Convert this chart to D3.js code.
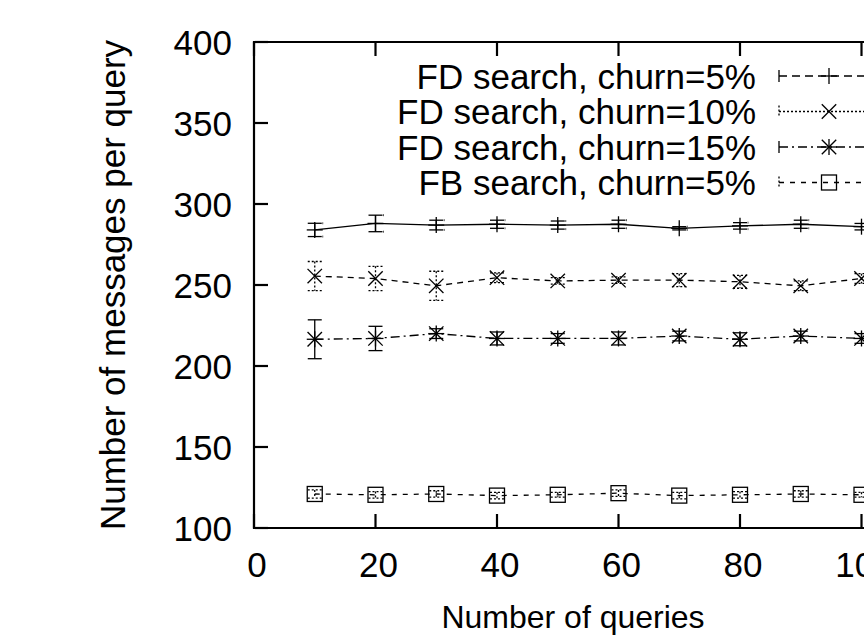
<!DOCTYPE html>
<html>
<head>
<meta charset="utf-8">
<script src="https://cdn.jsdelivr.net/npm/d3@7"></script>
<style>
  html, body { margin: 0; padding: 0; background: #fff; }
  svg { display: block; }
  text { font-family: "Liberation Sans", Arial, Helvetica, sans-serif; fill: #000; }
</style>
</head>
<body>
<div id="chart"></div>
<script>
// data
var queries = [10, 20, 30, 40, 50, 60, 70, 80, 90, 100];
var seriesNames = ["FD search, churn=5%", "FD search, churn=10%", "FD search, churn=15%", "FB search, churn=5%"];
var fd5 = [284, 288, 287, 287.5, 287, 287.5, 285, 286.5, 287.5, 286];
var fd5Err = [4.1, 5.1, 3, 2.5, 2.5, 2.5, 1, 2, 2.5, 2];
var fd10 = [255.5, 254, 249.5, 254.5, 252.5, 253, 253, 252, 249.5, 254];
var fd10Err = [9, 7.5, 9, 3, 2, 2, 4, 4, 3, 3];
var fd15 = [216.5, 217, 220, 217, 217, 217, 218.5, 216.5, 218.5, 217];
var fd15Err = [12, 7.5, 3, 4, 3, 4, 3, 4, 3, 3];
var fb5 = [121, 120.5, 121, 120, 120.5, 121.5, 120, 120.5, 121, 120.5];
var fb5Err = [2.5, 2, 2, 2, 1.5, 2, 2, 2, 2, 1.5];
var xTicks = [0, 20, 40, 60, 80, 100];
var yTicks = [100, 150, 200, 250, 300, 350, 400];

var width = 864, height = 635;
var fontSize = 35;

var svg = d3.select("#chart").append("svg")
    .attr("width", width)
    .attr("height", height);

var x = d3.scaleLinear().domain([0, 100]).range([254, 861.5]);
var y = d3.scaleLinear().domain([100, 400]).range([528, 42]);
var xRight = x(120);

// series styles (plot line dash, legend dash, errorbar dash, marker)
var series = [
    { name: seriesNames[0], vals: fd5, err: fd5Err, dash: null, legDash: "8,5", barDash: null, marker: "plus" },
    { name: seriesNames[1], vals: fd10, err: fd10Err, dash: "6,5", legDash: "2,2", barDash: "2,2", marker: "cross" },
    { name: seriesNames[2], vals: fd15, err: fd15Err, dash: "9,4,2,4", legDash: "9,4,2,4", barDash: null, marker: "star" },
    { name: seriesNames[3], vals: fb5, err: fb5Err, dash: "5,6", legDash: "5,6", barDash: "2,2", marker: "box" }
];

function drawMarker(g, type, cx, cy) {
    var r = 8;
    var p = g.append("g").attr("stroke", "#000").attr("stroke-width", 1.3).attr("fill", "none");
    if (type === "plus" || type === "star") {
        p.append("line").attr("x1", cx - r).attr("x2", cx + r).attr("y1", cy).attr("y2", cy);
        p.append("line").attr("x1", cx).attr("x2", cx).attr("y1", cy - r).attr("y2", cy + r);
    }
    if (type === "cross" || type === "star") {
        var k = r * 0.9;
        p.append("line").attr("x1", cx - k).attr("x2", cx + k).attr("y1", cy - k).attr("y2", cy + k);
        p.append("line").attr("x1", cx - k).attr("x2", cx + k).attr("y1", cy + k).attr("y2", cy - k);
    }
    if (type === "box") {
        p.append("rect").attr("x", cx - 7.5).attr("y", cy - 7.5).attr("width", 15).attr("height", 15);
    }
}

var plot = svg.append("g");

series.forEach(function (s) {
    var pts = queries.map(function (q, i) { return [q, s.vals[i], s.err[i]]; });

    var line = d3.line()
        .x(function (d) { return x(d[0]); })
        .y(function (d) { return y(d[1]); });

    plot.append("path")
        .datum(pts)
        .attr("d", line)
        .attr("fill", "none")
        .attr("stroke", "#000")
        .attr("stroke-width", 1.3)
        .attr("stroke-dasharray", s.dash);

    // error bars
    var cap = 7;
    pts.forEach(function (d) {
        var cx = x(d[0]), y1 = y(d[1] + d[2]), y2 = y(d[1] - d[2]);
        var eb = plot.append("g")
            .attr("stroke", "#000")
            .attr("stroke-width", 1.3)
            .attr("stroke-dasharray", s.barDash);
        eb.append("line").attr("x1", cx).attr("x2", cx).attr("y1", y1).attr("y2", y2);
        eb.append("line").attr("x1", cx - cap).attr("x2", cx + cap).attr("y1", y1).attr("y2", y1);
        eb.append("line").attr("x1", cx - cap).attr("x2", cx + cap).attr("y1", y2).attr("y2", y2);
        if (s.marker === "plus") {
            // faint dotted ticks next to the caps
            eb.append("line").attr("x1", cx + 8).attr("x2", cx + 8).attr("y1", y1 - 1).attr("y2", y1 + 1)
                .attr("stroke-width", 1).attr("stroke", "#555");
            eb.append("line").attr("x1", cx + 8).attr("x2", cx + 8).attr("y1", y2 - 1).attr("y2", y2 + 1)
                .attr("stroke-width", 1).attr("stroke", "#555");
        }
        drawMarker(plot, s.marker, cx, y(d[1]));
    });
});

// frame and ticks
var frame = svg.append("g").attr("stroke", "#000").attr("stroke-width", 2.2).attr("fill", "none");
frame.append("path")
    .attr("d", "M" + xRight + "," + y(400) + "H" + x(0) + "V" + y(100) + "H" + xRight + "V" + y(400));

yTicks.forEach(function (t) {
    frame.append("line").attr("x1", x(0)).attr("x2", x(0) + 14).attr("y1", y(t)).attr("y2", y(t));
    svg.append("text")
        .attr("x", 232)
        .attr("y", y(t))
        .attr("dy", "0.36em")
        .attr("text-anchor", "end")
        .style("font-size", fontSize + "px")
        .text(t);
});

xTicks.forEach(function (t) {
    frame.append("line").attr("x1", x(t)).attr("x2", x(t)).attr("y1", y(100)).attr("y2", y(100) - 14);
    frame.append("line").attr("x1", x(t)).attr("x2", x(t)).attr("y1", y(400)).attr("y2", y(400) + 14);
    svg.append("text")
        .attr("x", x(t) + 3)
        .attr("y", 577)
        .attr("text-anchor", "middle")
        .style("font-size", fontSize + "px")
        .text(t);
});

// axis titles
svg.append("text")
    .attr("x", 573)
    .attr("y", 628)
    .attr("text-anchor", "middle")
    .style("font-size", "32px")
    .text("Number of queries");

svg.append("text")
    .attr("transform", "translate(125," + 285 + ") rotate(-90)")
    .attr("text-anchor", "middle")
    .style("font-size", fontSize + "px")
    .text("Number of messages per query");

// legend
var legRows = [76, 111.5, 147, 182.5];
series.forEach(function (s, i) {
    var ly = legRows[i];
    svg.append("text")
        .attr("x", 756)
        .attr("y", ly)
        .attr("dy", "0.36em")
        .attr("text-anchor", "end")
        .style("font-size", fontSize + "px")
        .text(s.name);
    var lg = svg.append("g").attr("stroke", "#000").attr("stroke-width", 1.3);
    lg.append("line").attr("x1", 779).attr("x2", 880).attr("y1", ly).attr("y2", ly)
        .attr("stroke-dasharray", s.legDash);
    lg.append("line").attr("x1", 779).attr("x2", 779).attr("y1", ly - 6).attr("y2", ly + 6)
        .attr("stroke-dasharray", s.barDash);
    drawMarker(svg, s.marker, 829, ly);
});
</script>
</body>
</html>
